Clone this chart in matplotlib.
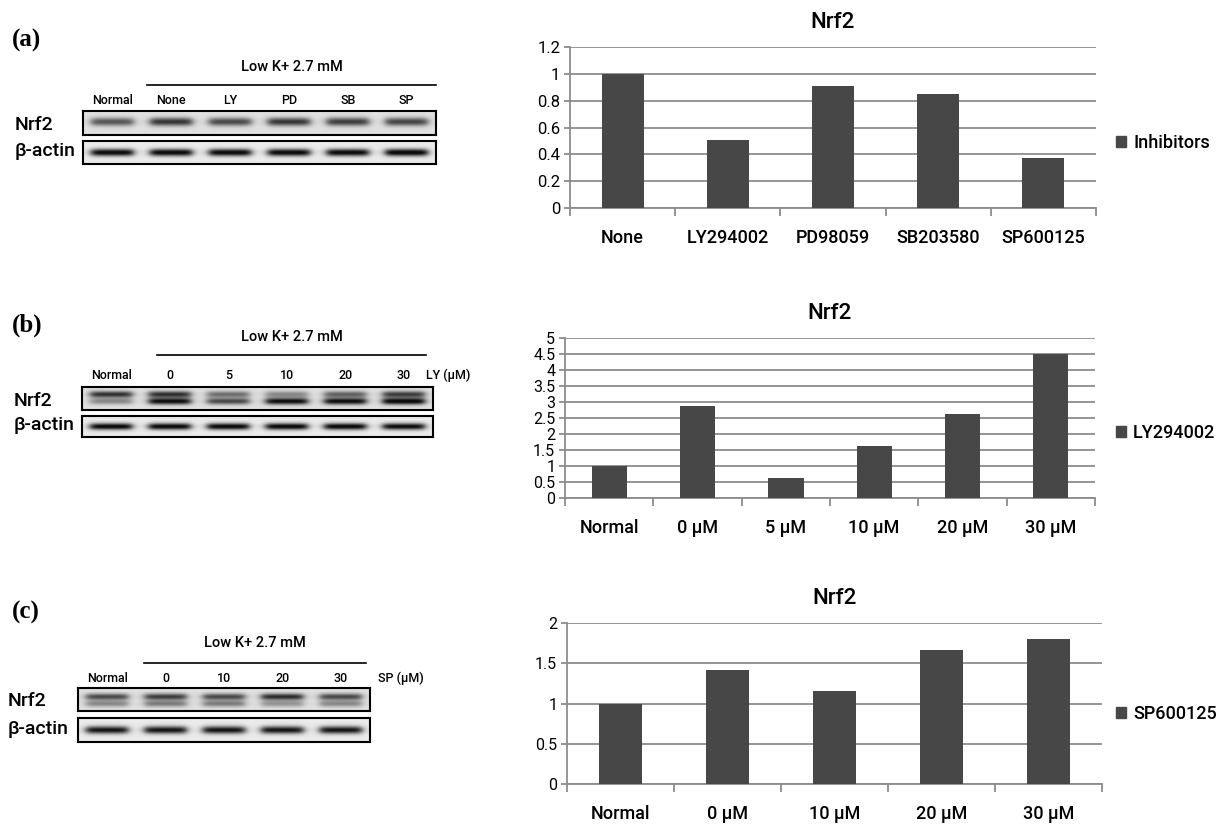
import numpy as np
import matplotlib
matplotlib.use('Agg')
import matplotlib.pyplot as plt
from matplotlib.patches import Patch
from matplotlib.lines import Line2D

W, H = 1220, 825
plt.rcParams['font.family'] = ['Roboto', 'Liberation Sans', 'DejaVu Sans']

# ---- bar chart data ----
inhib_cats = ['None', 'LY294002', 'PD98059', 'SB203580', 'SP600125']
inhib_vals = [1.0, 0.51, 0.91, 0.85, 0.37]
ly_cats = ['Normal', '0 µM', '5 µM', '10 µM', '20 µM', '30 µM']
ly_vals = [1.0, 2.87, 0.62, 1.62, 2.62, 4.5]
sp_cats = ['Normal', '0 µM', '10 µM', '20 µM', '30 µM']
sp_vals = [1.0, 1.42, 1.15, 1.66, 1.80]

# ---- blot lanes, band darkness (0..1) ----
lanes_a = ['Normal', 'None', 'LY', 'PD', 'SB', 'SP']
nrf2_a = [0.55, 0.68, 0.6, 0.68, 0.65, 0.62]
actin_a = [0.92, 0.92, 0.92, 0.92, 0.92, 0.95]
lanes_b = ['Normal', '0', '5', '10', '20', '30']
nrf2_b_up = [0.7, 0.7, 0.45, 0.35, 0.5, 0.65]
nrf2_b_lo = [0.35, 0.85, 0.6, 0.85, 0.85, 0.9]
actin_b = [0.92, 0.92, 0.92, 0.92, 0.92, 0.9]
lanes_c = ['Normal', '0', '10', '20', '30']
nrf2_c_up = [0.6, 0.65, 0.6, 0.72, 0.6]
nrf2_c_lo = [0.35, 0.4, 0.4, 0.3, 0.35]
actin_c = [0.85, 0.85, 0.85, 0.85, 0.85]

BAR = '#474747'
GRID = '#8c8c8c'
MED = 'medium'

fig = plt.figure(figsize=(W / 100, H / 100), dpi=100)


def px_axes(x0, y0, x1, y1):
    return fig.add_axes([x0 / W, 1 - y1 / H, (x1 - x0) / W, (y1 - y0) / H])


def txt(x, y, s, **kw):
    kw.setdefault('va', 'center')
    kw.setdefault('ha', 'center')
    fig.text(x / W, 1 - y / H, s, **kw)


def hline(x0, x1, y):
    fig.add_artist(Line2D([x0 / W, x1 / W], [1 - y / H] * 2, color='k', lw=1.2))


def blot(box, up, lo=None, up_pos=0.5, lo_pos=0.68, sig=0.11, bg=0.88):
    x0, y0, x1, y1 = box
    ax = px_axes(x0, y0, x1, y1)
    n = len(up)
    nx, ny = n * 60, 48
    xs = (np.arange(nx) + 0.5) / 60 - 0.5
    ys = (np.arange(ny) + 0.5) / ny
    img = np.full((ny, nx), bg)
    for i in range(n):
        u = xs - i
        xp = 1 / (1 + np.exp((np.abs(u) - 0.36) / 0.04))
        yp = np.exp(-0.5 * ((ys - up_pos) / sig) ** 2)
        img -= up[i] * np.outer(yp, xp)
        if lo is not None:
            yp2 = np.exp(-0.5 * ((ys - lo_pos) / sig) ** 2)
            img -= lo[i] * np.outer(yp2, xp)
    img = np.clip(img, 0.05, 1)
    ax.imshow(img, cmap='gray', vmin=0, vmax=1, aspect='auto',
              extent=(-0.5, n - 0.5, 1, 0), interpolation='bilinear')
    ax.set_xticks([])
    ax.set_yticks([])
    for s in ax.spines.values():
        s.set_linewidth(1.5)
        s.set_color('black')
    return ax


def blot_panel(tag, tag_y, low_xy, line, lab_y, lanes, nrf2_box, actin_box,
               up, lo, actin, lab_x, unit=None, up_pos=0.5, lo_pos=0.68):
    txt(12, tag_y, tag, ha='left', family='Liberation Serif',
        weight='bold', fontsize=18)
    txt(low_xy[0], low_xy[1], 'Low K+ 2.7 mM', fontsize=10.5, weight=MED)
    hline(line[0], line[1], line[2])
    x0, x1 = nrf2_box[0], nrf2_box[2]
    step = (x1 - x0) / len(lanes)
    for i, lab in enumerate(lanes):
        txt(x0 + (i + 0.5) * step, lab_y, lab, fontsize=9, weight=MED)
    if unit:
        txt(unit[0], lab_y, unit[1], ha='left', fontsize=9, weight=MED)
    blot(nrf2_box, up, lo, up_pos=up_pos, lo_pos=lo_pos, sig=0.1 if lo else 0.12)
    blot(actin_box, actin, None, up_pos=0.5, sig=0.11, bg=0.92)
    txt(lab_x, (nrf2_box[1] + nrf2_box[3]) / 2 + 2, 'Nrf2', ha='left',
        fontsize=14, weight=MED)
    txt(lab_x, (actin_box[1] + actin_box[3]) / 2 - 1, 'β-actin', ha='left',
        fontsize=14, weight=MED)


def bar_panel(box, cats, vals, ymax, ystep, leg_label, leg_xy, ysize):
    ax = px_axes(*box)
    x = np.arange(len(cats))
    ax.bar(x, vals, width=0.4, color=BAR, zorder=3)
    ax.set_xlim(-0.5, len(cats) - 0.5)
    ax.set_ylim(0, ymax)
    ticks = np.arange(0, ymax + ystep / 2, ystep)
    ax.set_yticks(ticks)
    ax.set_yticklabels([f'{t:g}' for t in ticks], fontsize=ysize)
    ax.yaxis.grid(True, color=GRID, lw=1.3, zorder=0)
    ax.set_xticks(x)
    ax.set_xticklabels(cats, fontsize=13, weight=MED)
    ax.set_xticks(np.arange(len(cats) + 1) - 0.5, minor=True)
    ax.tick_params(axis='x', which='major', length=0, pad=15)
    ax.tick_params(axis='x', which='minor', length=6, color=GRID, width=1.3)
    ax.tick_params(axis='y', length=4, color=GRID, width=1.3, pad=3)
    for s in ['top', 'right']:
        ax.spines[s].set_visible(False)
    for s in ['left', 'bottom']:
        ax.spines[s].set_color(GRID)
        ax.spines[s].set_linewidth(1.3)
    ax.set_title('Nrf2', fontsize=16, pad=14, weight=MED)
    ax.legend(handles=[Patch(color=BAR, label=leg_label)], loc='center left',
              bbox_to_anchor=(leg_xy[0] / W, 1 - leg_xy[1] / H),
              bbox_transform=fig.transFigure, frameon=False,
              prop={'size': 13, 'weight': MED},
              handlelength=0.55, handleheight=0.55, handletextpad=0.4,
              borderpad=0, borderaxespad=0)
    return ax


# (a)
blot_panel('(a)', 40, (292, 67), (147, 436, 85), 100, lanes_a,
           (83, 111, 436, 135), (83, 141, 436, 164),
           nrf2_a, None, actin_a, 15, up_pos=0.45)
bar_panel((570, 47, 1096, 208), inhib_cats, inhib_vals, 1.2, 0.2,
          'Inhibitors', (1116, 143), 12)

# (b)
blot_panel('(b)', 325, (292, 337), (157, 426, 355), 375, lanes_b,
           (82, 387, 433, 410), (82, 416, 433, 437),
           nrf2_b_up, nrf2_b_lo, actin_b, 14, unit=(426, 'LY (µM)'),
           up_pos=0.32, lo_pos=0.62)
bar_panel((565, 338, 1095, 498), ly_cats, ly_vals, 5, 0.5,
          'LY294002', (1116, 433), 11.5)

# (c)
blot_panel('(c)', 612, (255, 643), (144, 366, 663), 678, lanes_c,
           (78, 688, 370, 711), (78, 718, 370, 742),
           nrf2_c_up, nrf2_c_lo, actin_c, 8, unit=(378, 'SP (µM)'),
           up_pos=0.38, lo_pos=0.68)
bar_panel((567, 623, 1102, 784), sp_cats, sp_vals, 2, 0.5,
          'SP600125', (1116, 714), 11.5)

fig.savefig('out.png', dpi=100)
